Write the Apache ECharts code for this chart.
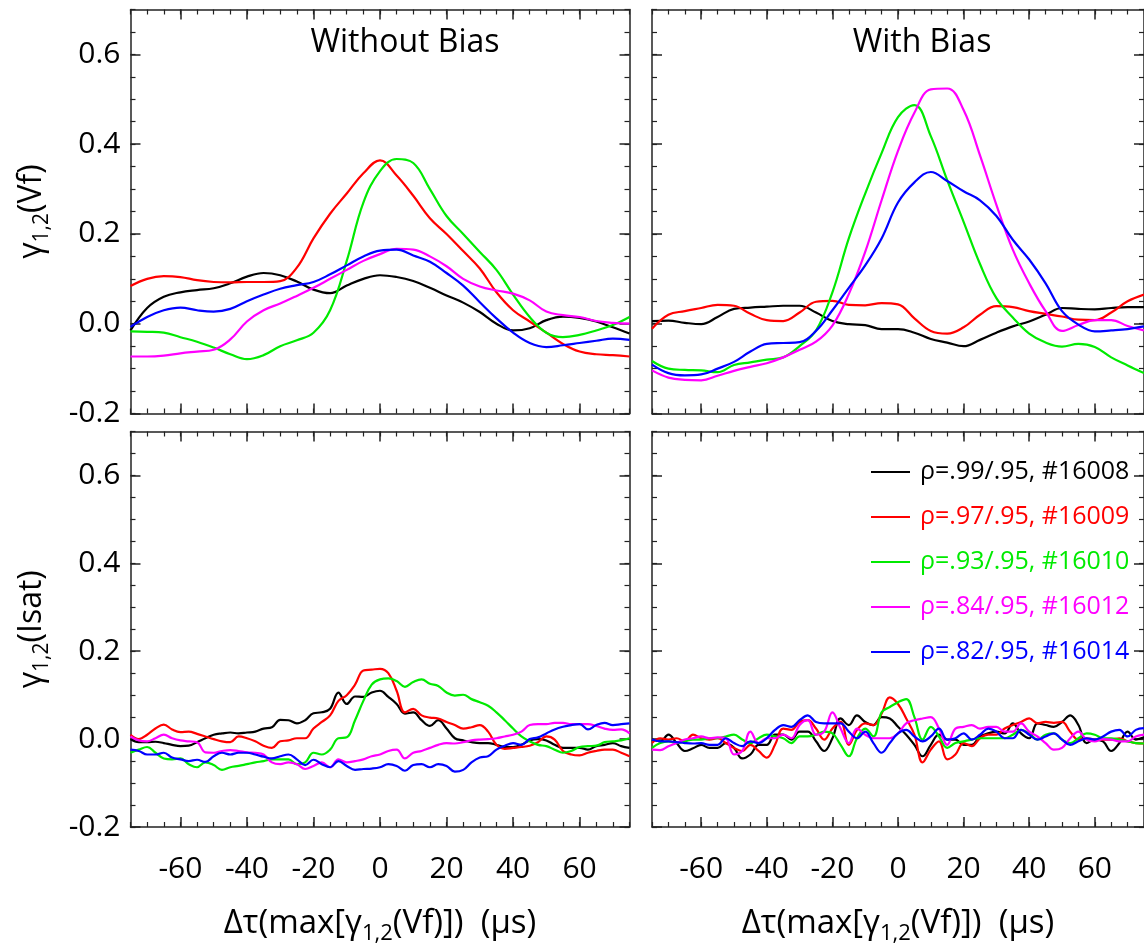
<!DOCTYPE html>
<html>
<head>
<meta charset="utf-8">
<script src="https://cdn.jsdelivr.net/npm/echarts/dist/echarts.min.js"></script>
<style>
  html, body { margin: 0; padding: 0; background: #fff; }
  #main { width: 1144px; height: 946px; }
</style>
</head>
<body>
<div id="main"></div>
<script>
// time lags (us)
var tauCoarse = [-75, -70, -65, -60, -55, -50, -45, -40, -35, -30, -25, -20, -15, -10, -5, 0,
    5, 10, 15, 20, 25, 30, 35, 40, 45, 50, 55, 60, 65, 70, 75];
var tauFine = [-75, -72.5, -70, -67.5, -65, -62.5, -60, -57.5, -55, -52.5, -50, -47.5, -45, -42.5,
    -40, -37.5, -35, -32.5, -30, -27.5, -25, -22.5, -20, -17.5, -15, -12.5, -10, -7.5, -5, -2.5, 0,
    2.5, 5, 7.5, 10, 12.5, 15, 17.5, 20, 22.5, 25, 27.5, 30, 32.5, 35, 37.5, 40, 42.5, 45, 47.5,
    50, 52.5, 55, 57.5, 60, 62.5, 65, 67.5, 70, 72.5, 75];

var shotNames = ['ρ=.99/.95, #16008', 'ρ=.97/.95, #16009', 'ρ=.93/.95, #16010',
    'ρ=.84/.95, #16012', 'ρ=.82/.95, #16014'];
var shotColors = ['#000000', '#ff0000', '#00ea00', '#ff00ff', '#0000ff'];

var xMajor = [-60, -40, -20, 0, 20, 40, 60];
var yMajor = [-0.2, 0, 0.2, 0.4, 0.6];

// gamma(Vf), without bias
var vfOff16008 = [-0.015, 0.035, 0.06, 0.07, 0.075, 0.079, 0.09, 0.105, 0.113, 0.108, 0.094, 0.076, 0.068, 0.085, 0.1, 0.108,
    0.104, 0.095, 0.08, 0.063, 0.047, 0.026, 0.0, -0.015, -0.01, 0.008, 0.016, 0.013, 0.005, -0.008, -0.022];
var vfOff16009 = [0.084, 0.1, 0.106, 0.104, 0.097, 0.093, 0.092, 0.093, 0.093, 0.095, 0.125, 0.19, 0.245, 0.29, 0.335, 0.364,
    0.33, 0.285, 0.235, 0.2, 0.162, 0.123, 0.07, 0.03, 0.005, -0.02, -0.045, -0.062, -0.068, -0.07, -0.073];
var vfOff16010 = [-0.017, -0.018, -0.02, -0.03, -0.04, -0.053, -0.068, -0.079, -0.07, -0.05, -0.037, -0.02, 0.03, 0.14, 0.27, 0.34,
    0.367, 0.358, 0.3, 0.24, 0.2, 0.16, 0.12, 0.065, 0.015, -0.02, -0.03, -0.025, -0.015, -0.003, 0.015];
var vfOff16012 = [-0.073, -0.073, -0.071, -0.066, -0.062, -0.058, -0.035, 0.005, 0.03, 0.045, 0.062, 0.08, 0.1, 0.12, 0.14, 0.155,
    0.167, 0.165, 0.15, 0.128, 0.1, 0.083, 0.074, 0.067, 0.052, 0.027, 0.019, 0.015, 0.006, 0.002, 0.0];
var vfOff16014 = [-0.007, 0.015, 0.03, 0.036, 0.03, 0.027, 0.033, 0.05, 0.065, 0.078, 0.086, 0.093, 0.11, 0.13, 0.15, 0.163,
    0.165, 0.152, 0.138, 0.113, 0.085, 0.048, 0.012, -0.02, -0.043, -0.052, -0.048, -0.043, -0.038, -0.033, -0.036];

// gamma(Vf), with bias
var vfOn16008 = [0.006, 0.007, 0.002, -0.001, 0.015, 0.033, 0.036, 0.038, 0.04, 0.04, 0.025, 0.006, -0.001, -0.003, -0.012, -0.012,
    -0.02, -0.034, -0.042, -0.05, -0.036, -0.02, -0.006, 0.005, 0.02, 0.035, 0.033, 0.032, 0.035, 0.037, 0.037];
var vfOn16009 = [-0.011, 0.02, 0.028, 0.035, 0.042, 0.04, 0.022, 0.008, 0.006, 0.025, 0.049, 0.051, 0.042, 0.041, 0.046, 0.043,
    0.012, -0.016, -0.022, -0.008, 0.02, 0.039, 0.037, 0.028, 0.022, 0.016, 0.009, 0.008, 0.025, 0.05, 0.065];
var vfOn16010 = [-0.083, -0.1, -0.103, -0.104, -0.108, -0.092, -0.086, -0.08, -0.075, -0.05, -0.015, 0.07, 0.19, 0.29, 0.38, 0.46,
    0.487, 0.418, 0.32, 0.227, 0.133, 0.057, 0.014, -0.022, -0.042, -0.051, -0.045, -0.052, -0.075, -0.093, -0.11];
var vfOn16012 = [-0.104, -0.12, -0.125, -0.126, -0.116, -0.105, -0.096, -0.088, -0.075, -0.058, -0.04, -0.004, 0.066, 0.16, 0.275, 0.385,
    0.47, 0.522, 0.524, 0.476, 0.375, 0.265, 0.165, 0.09, 0.028, -0.016, -0.003, 0.008, 0.008, -0.005, -0.015];
var vfOn16014 = [-0.091, -0.11, -0.115, -0.113, -0.1, -0.085, -0.062, -0.045, -0.043, -0.041, -0.016, 0.03, 0.08, 0.13, 0.19, 0.27,
    0.315, 0.338, 0.318, 0.295, 0.275, 0.24, 0.187, 0.143, 0.09, 0.028, -0.002, -0.017, -0.015, -0.012, -0.006];

// gamma(Isat), without bias
var isOff16008 = [0, -0.007, -0.007, -0.006, -0.009, -0.013, -0.016, -0.015, -0.007, 0.002,
    0.01, 0.013, 0.015, 0.013, 0.015, 0.017, 0.024, 0.027, 0.044, 0.043,
    0.036, 0.043, 0.059, 0.061, 0.069, 0.106, 0.08, 0.097, 0.096, 0.106,
    0.11, 0.096, 0.08, 0.058, 0.061, 0.043, 0.03, 0.043, 0.024, 0.002,
    -0.003, -0.007, -0.009, -0.009, -0.013, -0.018, -0.018, -0.013, -0.003, 0,
    -0.003, -0.013, -0.02, -0.02, -0.02, -0.024, -0.016, -0.013, -0.009, -0.016, -0.02];
var isOff16009 = [0.01, 0, 0.01, 0.024, 0.033, 0.022, 0.016, 0.017, 0.012, 0.006,
    0, -0.005, -0.007, 0.006, 0.002, -0.005, -0.015, -0.02, -0.005, -0.003,
    0.002, 0.002, 0.024, 0.039, 0.054, 0.087, 0.1, 0.124, 0.156, 0.158,
    0.16, 0.15, 0.11, 0.061, 0.069, 0.054, 0.049, 0.047, 0.039, 0.032,
    0.024, 0.027, 0.032, 0.017, -0.013, -0.022, -0.02, -0.018, -0.015, -0.007,
    0.006, -0.001, -0.027, -0.035, -0.037, -0.031, -0.027, -0.024, -0.024, -0.031, -0.039];
var isOff16010 = [-0.031, -0.024, -0.018, -0.031, -0.044, -0.046, -0.044, -0.057, -0.064, -0.053,
    -0.059, -0.07, -0.064, -0.061, -0.057, -0.053, -0.05, -0.046, -0.046, -0.046,
    -0.057, -0.053, -0.031, -0.035, -0.024, 0.002, 0.004, 0.043, 0.087, 0.124,
    0.136, 0.138, 0.132, 0.119, 0.13, 0.136, 0.126, 0.121, 0.106, 0.099,
    0.101, 0.091, 0.084, 0.076, 0.061, 0.043, 0.024, 0.006, -0.005, -0.013,
    -0.016, -0.024, -0.031, -0.027, -0.018, -0.016, -0.015, -0.007, -0.005, -0.003, 0.002];
var isOff16012 = [0.006, -0.003, -0.005, 0.002, 0.01, 0.002, -0.003, -0.005, -0.007, -0.03,
    -0.031, -0.027, -0.025, -0.027, -0.03, -0.031, -0.035, -0.053, -0.057, -0.053,
    -0.057, -0.068, -0.061, -0.053, -0.064, -0.046, -0.053, -0.05, -0.046, -0.039,
    -0.035, -0.027, -0.024, -0.044, -0.031, -0.027, -0.02, -0.013, -0.009, -0.01,
    -0.007, -0.003, -0.001, 0, 0.002, 0.006, 0.01, 0.017, 0.032, 0.034,
    0.034, 0.037, 0.037, 0.034, 0.034, 0.034, 0.03, 0.024, 0.021, 0.022, 0.013];
var isOff16014 = [-0.024, -0.027, -0.035, -0.035, -0.031, -0.042, -0.046, -0.05, -0.047, -0.052,
    -0.039, -0.031, -0.035, -0.031, -0.031, -0.035, -0.04, -0.044, -0.039, -0.035,
    -0.046, -0.059, -0.047, -0.057, -0.064, -0.05, -0.061, -0.07, -0.068, -0.067,
    -0.064, -0.057, -0.061, -0.072, -0.059, -0.057, -0.064, -0.057, -0.061, -0.074,
    -0.07, -0.053, -0.042, -0.039, -0.024, -0.015, -0.009, -0.013, 0, 0.004,
    0.013, 0.022, 0.028, 0.032, 0.034, 0.022, 0.032, 0.037, 0.032, 0.034, 0.036];

// gamma(Isat), with bias
var isOn16008 = [-0.001, -0.005, 0.01, -0.009, -0.027, -0.021, -0.013, -0.02, -0.02, -0.009,
    -0.02, -0.044, -0.035, -0.013, -0.013, 0.01, 0.01, -0.001, 0.017, 0.017,
    -0.005, -0.027, 0.002, 0.047, 0.032, 0.054, 0.039, 0.032, 0.05, 0.047,
    0.028, 0.01, -0.013, -0.039, -0.013, 0.01, -0.001, -0.001, -0.013, -0.013,
    0.006, 0.013, 0.017, 0.013, 0.036, 0.013, 0.002, 0.036, 0.032, 0.028,
    0.039, 0.054, 0.032, -0.009, -0.001, -0.005, -0.027, -0.009, 0.017, -0.001, 0.004];
var isOn16009 = [-0.009, 0.002, -0.001, 0.002, -0.005, 0.01, 0.002, -0.001, 0.002, -0.009,
    -0.02, -0.027, -0.013, -0.027, -0.042, -0.013, 0.024, 0.021, 0.039, 0.043,
    0.024, -0.001, 0.024, 0.039, -0.013, 0.021, 0.036, 0.032, 0.058, 0.095,
    0.08, 0.047, 0.01, -0.053, -0.024, -0.005, -0.046, -0.035, -0.009, -0.016,
    0.002, 0.01, 0.01, 0.024, 0.032, 0.039, 0.047, 0.036, 0.039, 0.037,
    0.039, 0.017, -0.001, 0.002, -0.001, -0.001, -0.001, 0.002, -0.005, -0.009, -0.01];
var isOn16010 = [-0.02, -0.009, -0.005, -0.009, -0.005, -0.001, -0.001, 0.002, 0.002, 0.006,
    0.01, -0.001, -0.009, 0.002, 0.01, 0.006, 0.002, -0.009, 0.006, 0.006,
    0.01, 0.017, 0.013, -0.013, -0.039, 0.002, 0.024, 0.006, 0.061, 0.073,
    0.084, 0.091, 0.05, -0.001, 0.028, 0.006, -0.02, -0.009, -0.005, -0.001,
    0.002, 0.002, 0.002, 0.002, 0.01, 0.021, 0.013, -0.001, 0.01, 0.013,
    -0.001, -0.009, 0.002, 0.013, 0.01, 0.002, 0.002, -0.001, -0.005, -0.009, -0.01];
var isOn16012 = [-0.024, -0.025, -0.016, -0.009, -0.001, 0.002, 0.006, 0.002, 0.004, 0.002,
    -0.035, -0.027, 0.017, -0.009, 0.002, 0.002, 0.01, 0.002, 0.032, 0.043,
    0.01, 0.017, 0.061, 0.024, -0.009, 0.024, 0.01, 0.002, 0.002, 0.002,
    0.013, 0.036, 0.043, 0.047, 0.05, 0.024, -0.013, 0.024, 0.028, 0.032,
    0.024, 0.028, 0.028, 0.017, 0.017, 0.036, 0.017, 0.006, -0.009, -0.024,
    -0.02, 0.002, 0.017, -0.001, -0.005, 0, -0.001, -0.005, -0.005, 0.006, 0.01];
var isOn16014 = [-0.001, -0.005, -0.005, -0.007, -0.009, -0.01, -0.009, -0.013, -0.013, 0.002,
    -0.009, -0.016, -0.005, -0.009, 0.002, 0.021, 0.032, 0.028, 0.043, 0.054,
    0.039, 0.036, 0.036, 0.036, 0.017, 0.002, 0.017, -0.009, -0.031, -0.009,
    0.013, 0.021, 0.006, -0.005, 0.006, 0.024, -0.001, 0.002, 0.013, -0.001,
    0.01, 0.024, 0.017, 0.002, 0.002, 0.021, 0.01, -0.001, 0.006, 0.013,
    -0.001, -0.013, -0.005, 0.002, -0.001, 0.006, 0.017, 0.021, 0.006, 0.021, 0.025];

var FONT = 'Open Sans';
var FRAME = '#222';

var panels = [
    {grid: {left: 130.5, top: 9.5, width: 499, height: 404}, tau: tauCoarse,
        curves: [vfOff16008, vfOff16009, vfOff16010, vfOff16012, vfOff16014], xLabels: false, yLabels: true, yName: 'Vf'},
    {grid: {left: 652, top: 9.5, width: 500, height: 404}, tau: tauCoarse,
        curves: [vfOn16008, vfOn16009, vfOn16010, vfOn16012, vfOn16014], xLabels: false, yLabels: false},
    {grid: {left: 130.5, top: 431.5, width: 499, height: 404}, tau: tauFine,
        curves: [isOff16008, isOff16009, isOff16010, isOff16012, isOff16014], xLabels: true, yLabels: true, yName: 'Isat'},
    {grid: {left: 652, top: 431.5, width: 500, height: 404}, tau: tauFine,
        curves: [isOn16008, isOn16009, isOn16010, isOn16012, isOn16014], xLabels: true, yLabels: false}
];

// big text with a "1,2" subscript
var richY = {
    a: {fontFamily: FONT, fontSize: 32, color: '#000', lineHeight: 42},
    b: {fontFamily: FONT, fontSize: 21, color: '#000', lineHeight: 42, verticalAlign: 'bottom'}
};
var richX = {
    a: {fontFamily: FONT, fontSize: 33, color: '#000', lineHeight: 42},
    b: {fontFamily: FONT, fontSize: 22, color: '#000', lineHeight: 42, verticalAlign: 'bottom'}
};

function xAxesFor(g, p) {
    var list = [];
    ['bottom', 'top'].forEach(function (pos) {
        var isMain = pos === 'bottom';
        list.push({
            gridIndex: g, type: 'value', position: pos, min: -75, max: 75, interval: 5,
            splitLine: {show: false},
            axisLine: {show: true, onZero: false, lineStyle: {color: FRAME, width: 1.5}},
            axisTick: {inside: true, length: 10, customValues: xMajor, lineStyle: {color: FRAME, width: 1.5}},
            axisLabel: {show: isMain && p.xLabels, customValues: xMajor, margin: 27,
                fontFamily: FONT, fontSize: 30, color: '#000'},
            name: (isMain && p.xLabels) ? '{a|Δτ(max[γ}{b|1,2}{a|(Vf)])  (μs)}' : '',
            nameLocation: 'middle', nameGap: 76,
            nameTextStyle: {rich: richX}
        });
        list.push({
            gridIndex: g, type: 'value', position: pos, min: -75, max: 75, interval: 5,
            splitLine: {show: false},
            axisLine: {show: false, onZero: false},
            axisTick: {inside: true, length: 5, lineStyle: {color: FRAME, width: 1.2}},
            axisLabel: {show: false}
        });
    });
    return list;
}

function yAxesFor(g, p) {
    var list = [];
    ['left', 'right'].forEach(function (pos) {
        var isMain = pos === 'left';
        list.push({
            gridIndex: g, type: 'value', position: pos, min: -0.2, max: 0.7, interval: 0.05,
            splitLine: {show: false},
            axisLine: {show: true, onZero: false, lineStyle: {color: FRAME, width: 1.5}},
            axisTick: {inside: true, length: 10, customValues: yMajor, lineStyle: {color: FRAME, width: 1.5}},
            axisLabel: {show: isMain && p.yLabels, customValues: yMajor, margin: 10,
                fontFamily: FONT, fontSize: 30, color: '#000',
                formatter: function (v) { return v.toFixed(1); }},
            name: (isMain && p.yName) ? '{a|γ}{b|1,2}{a|(' + p.yName + ')}' : '',
            nameLocation: 'middle', nameGap: 78, nameRotate: 90,
            nameTextStyle: {rich: richY}
        });
        list.push({
            gridIndex: g, type: 'value', position: pos, min: -0.2, max: 0.7, interval: 0.05,
            splitLine: {show: false},
            axisLine: {show: false, onZero: false},
            axisTick: {inside: true, length: 5, lineStyle: {color: FRAME, width: 1.2}},
            axisLabel: {show: false}
        });
    });
    return list;
}

var grids = [], xAxes = [], yAxes = [], series = [];
panels.forEach(function (p, g) {
    grids.push(p.grid);
    xAxes = xAxes.concat(xAxesFor(g, p));
    yAxes = yAxes.concat(yAxesFor(g, p));
    p.curves.forEach(function (vals, k) {
        series.push({
            type: 'line',
            name: shotNames[k],
            xAxisIndex: 4 * g,
            yAxisIndex: 4 * g,
            data: p.tau.map(function (t, i) { return [t, vals[i]]; }),
            smooth: 0.4,
            showSymbol: false,
            symbol: 'none',
            lineStyle: {color: shotColors[k], width: 2.2},
            itemStyle: {color: shotColors[k]},
            z: 2
        });
    });
});

var chart = echarts.init(document.getElementById('main'));
chart.setOption({
    animation: false,
    backgroundColor: '#fff',
    title: [
        {text: 'Without Bias', left: 400, top: 22, textAlign: 'center',
            textStyle: {fontFamily: FONT, fontSize: 32, fontWeight: 'normal', color: '#000'}},
        {text: 'With Bias', left: 917, top: 22, textAlign: 'center',
            textStyle: {fontFamily: FONT, fontSize: 32, fontWeight: 'normal', color: '#000'}}
    ],
    legend: {
        left: 866, top: 452, orient: 'vertical',
        icon: 'rect', itemWidth: 39, itemHeight: 2, itemGap: 15,
        textStyle: {fontFamily: FONT, fontSize: 25, lineHeight: 30, padding: [0, 0, 0, 5]},
        data: shotNames.map(function (n, i) {
            return {name: n, textStyle: {color: shotColors[i]}};
        })
    },
    grid: grids,
    xAxis: xAxes,
    yAxis: yAxes,
    series: series
});
</script>
</body>
</html>
